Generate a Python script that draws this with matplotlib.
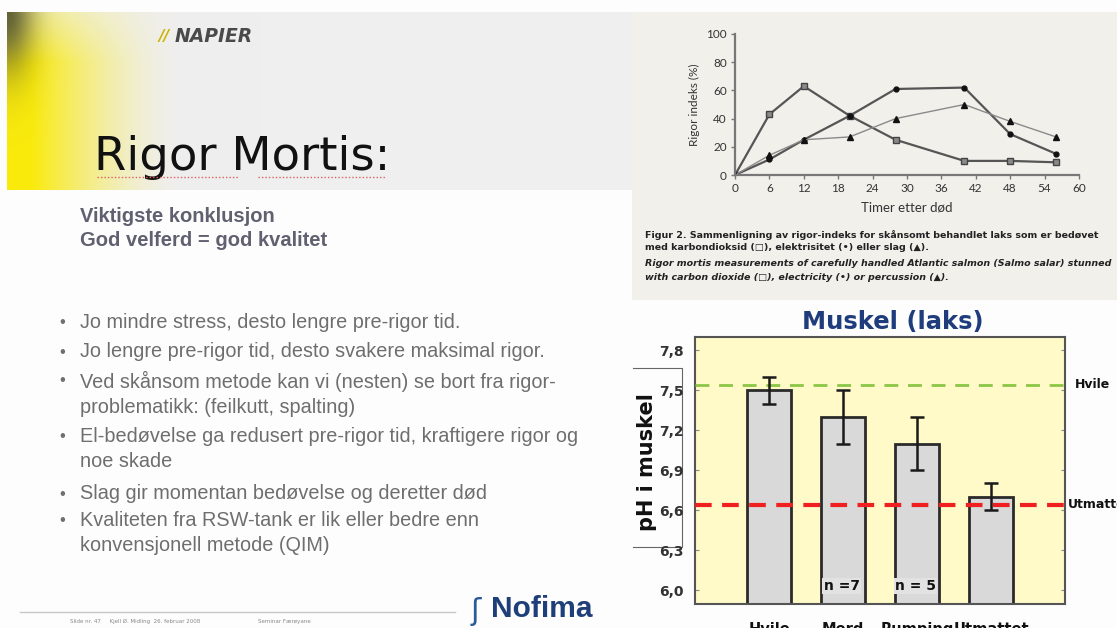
import numpy as np
import matplotlib
matplotlib.use("Agg")
import matplotlib.pyplot as plt
from matplotlib.patches import Rectangle

# ---------------- data ----------------
hours = [0, 6, 12, 20, 28, 40, 48, 56]
rigor_co2 = [0, 43, 63, 42, 25, 10, 10, 9]
rigor_electricity = [0, 11, 25, 42, 61, 62, 29, 15]
rigor_percussion = [0, 14, 25, 27, 40, 50, 38, 27]
rigor_xticks = [0, 6, 12, 18, 24, 30, 36, 42, 48, 54, 60]
rigor_yticks = [0, 20, 40, 60, 80, 100]

groups = ["Hvile", "Merd", "Rumping", "Utmattet"]
ph_values = [7.5, 7.3, 7.1, 6.7]
ph_err = [0.1, 0.2, 0.2, 0.1]
ph_yticks = [6.0, 6.3, 6.6, 6.9, 7.2, 7.5, 7.8]
ref_hvile = 7.54
ref_utmattet = 6.64
n_labels = ["", "n =7", "n = 5", ""]

bullets = [
    "Jo mindre stress, desto lengre pre-rigor tid.",
    "Jo lengre pre-rigor tid, desto svakere maksimal rigor.",
    "Ved skånsom metode kan vi (nesten) se bort fra rigor-\nproblematikk: (feilkutt, spalting)",
    "El-bedøvelse ga redusert pre-rigor tid, kraftigere rigor og\nnoe skade",
    "Slag gir momentan bedøvelse og deretter død",
    "Kvaliteten fra RSW-tank er lik eller bedre enn\nkonvensjonell metode (QIM)",
]

W, H = 1117, 628
fig = plt.figure(figsize=(W / 100, H / 100), dpi=100)
fig.patch.set_facecolor("#FDFDFD")

# background axes in pixel coordinates
bg = fig.add_axes([0, 0, 1, 1], zorder=0)
bg.set_xlim(0, W)
bg.set_ylim(H, 0)
bg.axis("off")

# header band
bg.add_patch(Rectangle((7, 12), W - 7, 178, facecolor="#EFEFEF", edgecolor="none"))
# right picture panel
bg.add_patch(Rectangle((632, 12), W - 632, 288, facecolor="#F1F0EB", edgecolor="none"))

# yellow gradient at left of header
gx0, gx1, gy0, gy1 = 7, 260, 12, 190
xs = np.linspace(gx0, gx1, 260)
ys = np.linspace(gy0, gy1, 180)
X, Y = np.meshgrid(xs, ys)
gray = np.array([0.937, 0.937, 0.937])
yellow = np.array([0.98, 0.92, 0.05])
dark = np.array([0.33, 0.33, 0.18])
w = np.clip(1 - (X - gx0 - 25) / 150.0, 0, 1) ** 1.6
w *= np.clip(0.45 + (Y - gy0) / 90.0, 0, 1)
img = gray * (1 - w[..., None]) + yellow * w[..., None]
d = 0.9 * np.exp(-((X - gx0) / 26.0) ** 2 - ((Y - gy0) / 60.0) ** 2)
img = img * (1 - d[..., None]) + dark * d[..., None]
bg.imshow(img, extent=(gx0, gx1, gy1, gy0), aspect="auto", zorder=1, interpolation="bilinear")

# logo text
bg.text(158, 37, "//", fontsize=11, fontweight="bold", style="italic", color="#C9B400", va="center", zorder=3)
bg.text(175, 37, "NAPIER", fontsize=13.5, fontweight="bold", style="italic", color="#4A4A4A",
        va="center", zorder=3, family="DejaVu Sans")

# title
bg.text(94, 170, "Rigor Mortis:", fontsize=33.5, family="DejaVu Sans",
        color="#111111", va="baseline", zorder=3)
bg.plot([97, 238], [177, 177], color="#E06060", lw=1, ls=(0, (1, 1.5)), zorder=3)
bg.plot([258, 385], [177, 177], color="#E06060", lw=1, ls=(0, (1, 1.5)), zorder=3)

bg.text(80, 216, "Viktigste konklusjon", fontsize=14.5, fontweight="bold", color="#606070",
        family="Liberation Sans", va="center", zorder=3)
bg.text(80, 241, "God velferd = god kvalitet", fontsize=14.5, fontweight="bold", color="#606070",
        family="Liberation Sans", va="center", zorder=3)

bullet_y = [323, 352, 381, 437, 494, 521]
for by, btxt in zip(bullet_y, bullets):
    bg.text(59, by, "•", fontsize=12, color="#707070", va="center", family="Liberation Sans", zorder=3)
    bg.text(80, by - 10, btxt, fontsize=14.3, color="#6E6E6E", va="top", family="Liberation Sans",
            linespacing=1.4, zorder=3)

# footer
bg.plot([20, 455], [612, 612], color="#C8C8C8", lw=1, zorder=3)
bg.text(70, 621, "Slide nr. 47     Kjell Ø. Midling  26. februar 2008", fontsize=4, color="#888888",
        va="center", zorder=3)
bg.text(258, 621, "Seminar Færøyane", fontsize=4, color="#888888", va="center", zorder=3)
bg.text(491, 609, "Nofima", fontsize=21.5, fontweight="bold", color="#1F3F7A", va="center",
        family="Liberation Sans", zorder=3)
bg.text(471, 611, "ʃ", fontsize=22, color="#2A5A9A", va="center", zorder=3, family="DejaVu Sans")

# caption under line chart
cap_kw = dict(fontsize=6.8, fontweight="bold", color="#222222", zorder=3, va="center",
              family=["DejaVu Sans"])
bg.text(645, 235, "Figur 2. Sammenligning av rigor-indeks for skånsomt behandlet laks som er bedøvet", **cap_kw)
bg.text(645, 248, "med karbondioksid (□), elektrisitet (•) eller slag (▲).", **cap_kw)
bg.text(645, 263, "Rigor mortis measurements of carefully handled Atlantic salmon (Salmo salar) stunned",
        style="italic", **cap_kw)
bg.text(645, 277, "with carbon dioxide (□), electricity (•) or percussion (▲).", style="italic", **cap_kw)

# ---------------- line chart ----------------
ax1 = fig.add_axes([735 / W, 1 - 175 / H, 344 / W, 141 / H], zorder=2)
ax1.patch.set_alpha(0)
ax1.plot(hours, rigor_co2, color="#555555", lw=1.6, marker="s", ms=5, mfc="#8A8A8A", mec="#444444")
ax1.plot(hours, rigor_electricity, color="#555555", lw=1.6, marker="o", ms=3.5, mfc="#111111", mec="#111111")
ax1.plot(hours, rigor_percussion, color="#8A8A8A", lw=1.0, marker="^", ms=4.5, mfc="#111111", mec="#111111")
ax1.set_xlim(0, 60)
ax1.set_ylim(0, 100)
ax1.set_xticks(rigor_xticks)
ax1.set_yticks(rigor_yticks)
for s in ["top", "right"]:
    ax1.spines[s].set_visible(False)
for s in ["left", "bottom"]:
    ax1.spines[s].set_color("#777777")
    ax1.spines[s].set_linewidth(1.6)
ax1.tick_params(length=3, width=1, color="#777777", labelsize=8.5, labelcolor="#333333", pad=3)
for lab in ax1.get_xticklabels() + ax1.get_yticklabels():
    lab.set_family("Lato")
ax1.set_xlabel("Timer etter død", fontsize=9.5, color="#333333", family="Lato", labelpad=5)
ax1.set_ylabel("Rigor indeks (%)", fontsize=8.5, color="#333333", family="Lato", labelpad=4)

# ---------------- bar chart ----------------
ax2 = fig.add_axes([695 / W, 24 / H, 370 / W, 267 / H], zorder=2)
ax2.set_facecolor("#FFFAC8")
xpos = np.arange(len(groups))
ax2.bar(xpos, ph_values, width=0.6, color="#D9D9D9", edgecolor="#2A2A2A", linewidth=2, zorder=2)
ax2.errorbar(xpos, ph_values, yerr=ph_err, fmt="none", ecolor="#1A1A1A", elinewidth=1.8,
             capsize=5, capthick=1.8, zorder=4)
ax2.axhline(ref_hvile, color="#8CC646", lw=2, ls=(0, (5, 3.5)), zorder=3)
ax2.axhline(ref_utmattet, color="#F02020", lw=3, ls=(0, (4, 2.5)), zorder=3)
ax2.set_xlim(-1, 4)
ax2.set_ylim(5.895, 7.9)
ax2.set_yticks(ph_yticks)
ax2.set_yticklabels([f"{v:.1f}".replace(".", ",") for v in ph_yticks], fontweight="bold",
                    fontsize=10, color="#333333")
ax2.set_xticks(xpos)
ax2.set_xticklabels(groups, fontweight="bold", fontsize=10.5, color="#111111")
ax2.tick_params(axis="y", direction="in", length=3, color="#888888", left=True, right=True, pad=8)
ax2.tick_params(axis="x", direction="in", length=3, color="#888888", pad=13)
for s in ax2.spines.values():
    s.set_color("#555555")
    s.set_linewidth(1.5)
for xi, lab in zip(xpos, n_labels):
    if lab:
        ax2.text(xi - 0.02, 6.03, lab, ha="center", va="center", fontsize=10, fontweight="bold",
                 color="#111111", zorder=5,
                 bbox=dict(boxstyle="square,pad=0.1", facecolor="#E2E2E2", edgecolor="none"))

bg.text(893, 322, "Muskel (laks)", fontsize=17.5, fontweight="bold", color="#1F3C7C",
        ha="center", va="center", zorder=3)
bg.text(647, 462, "pH i muskel", fontsize=15, fontweight="bold", rotation=90, ha="center",
        va="center", color="#111111", zorder=3)
bg.plot([633, 682, 682, 633], [368, 368, 547, 547], color="#666666", lw=0.8, zorder=3)
bg.text(1075, 385, "Hvile", fontsize=9, fontweight="bold", va="center", color="#111111", zorder=3)
bg.text(1068, 505, "Utmattet", fontsize=9, fontweight="bold", va="center", color="#111111", zorder=3)

fig.savefig("out.png", dpi=100, facecolor=fig.get_facecolor())
